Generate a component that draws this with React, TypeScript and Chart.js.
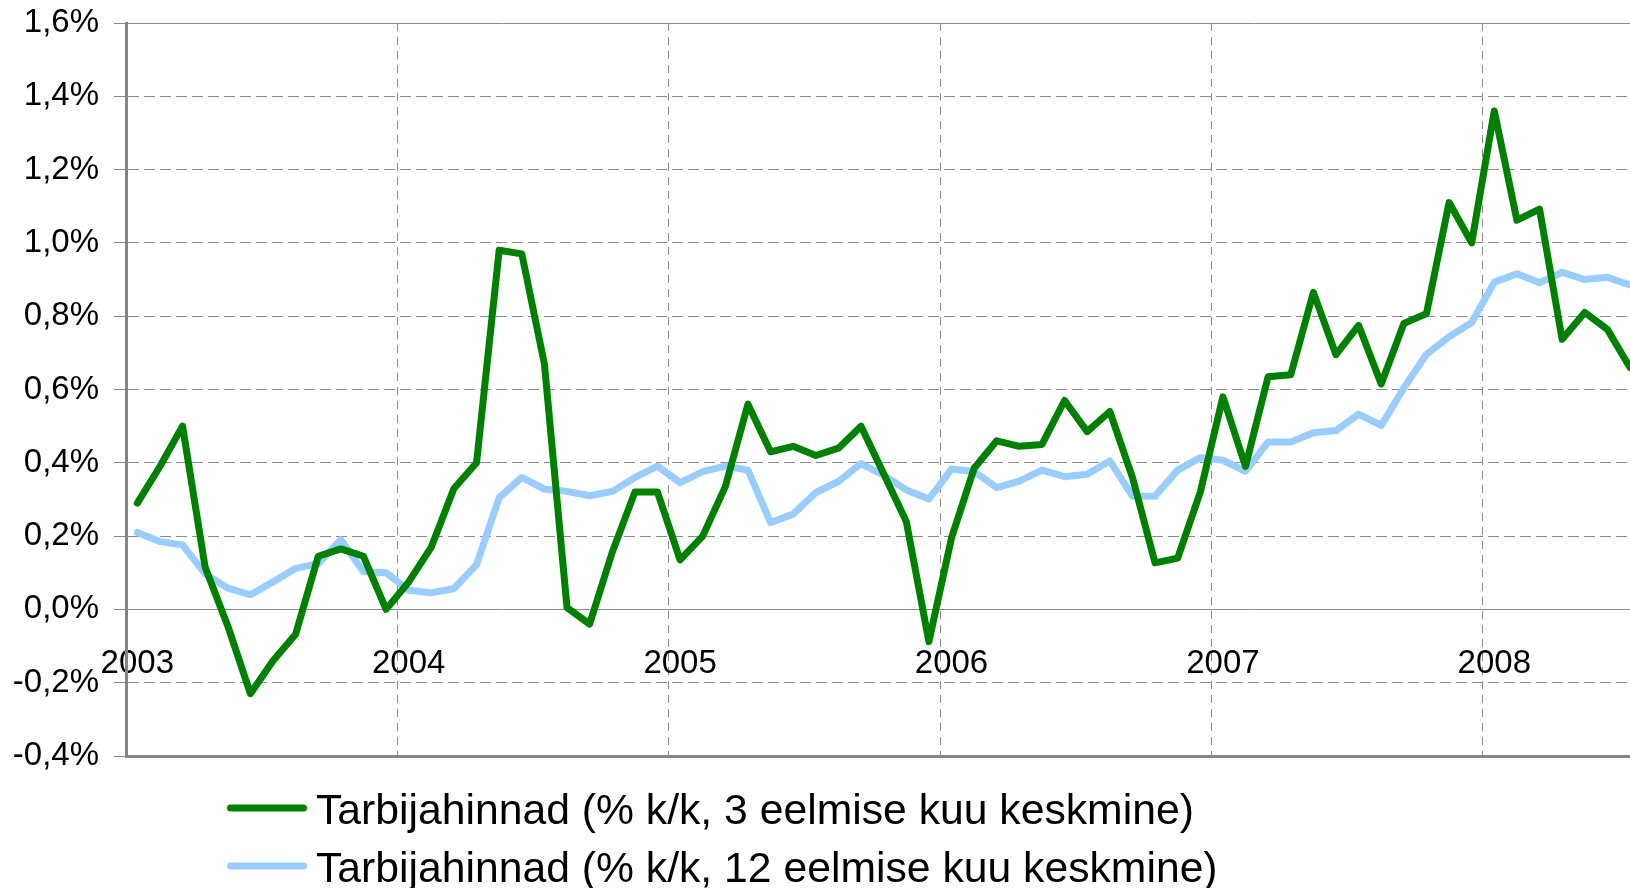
import React, { useEffect, useRef } from 'react';
import { Chart, registerables } from 'chart.js';

Chart.register(...registerables);

// ---- data ----
const years = ['2003', '2004', '2005', '2006', '2007', '2008'];

// Tarbijahinnad (% k/k, 3 eelmise kuu keskmine) — monthly, Jan 2003 .. Jul 2008
const cpi3m = [
  0.29, 0.39, 0.50, 0.115, -0.045, -0.23, -0.14, -0.068, 0.145, 0.165, 0.145, 0.0,
  0.075, 0.17, 0.33, 0.40, 0.98, 0.97, 0.67, 0.005, -0.04, 0.156, 0.32, 0.32,
  0.135, 0.20, 0.335, 0.56, 0.43, 0.445, 0.42, 0.44, 0.50, 0.37, 0.24, -0.088,
  0.195, 0.385, 0.46, 0.445, 0.45, 0.57, 0.485, 0.54, 0.36, 0.127, 0.14, 0.32,
  0.58, 0.39, 0.635, 0.64, 0.865, 0.695, 0.775, 0.615, 0.78, 0.807, 1.11, 1.00,
  1.36, 1.062, 1.092, 0.737, 0.81, 0.764, 0.66,
];

// Tarbijahinnad (% k/k, 12 eelmise kuu keskmine)
const cpi12m = [
  0.21, 0.185, 0.176, 0.097, 0.058, 0.04, 0.075, 0.112, 0.125, 0.19, 0.103, 0.10,
  0.052, 0.045, 0.057, 0.122, 0.305, 0.36, 0.328, 0.322, 0.31, 0.322, 0.36, 0.391,
  0.346, 0.376, 0.391, 0.38, 0.237, 0.26, 0.319, 0.349, 0.398, 0.366, 0.326, 0.301,
  0.383, 0.376, 0.332, 0.35, 0.38, 0.362, 0.369, 0.405, 0.309, 0.309, 0.38, 0.414,
  0.407, 0.377, 0.457, 0.457, 0.482, 0.488, 0.533, 0.502, 0.604, 0.696, 0.744, 0.783,
  0.893, 0.916, 0.891, 0.92, 0.9, 0.906, 0.885,
];

const seriesLabels = [
  'Tarbijahinnad (% k/k, 3 eelmise kuu keskmine)',
  'Tarbijahinnad (% k/k, 12 eelmise kuu keskmine)',
];

const yMin = -0.4;
const yMax = 1.6;
const yStep = 0.2;

// ---- styling ----
const FONT = '"Liberation Sans", Arial, sans-serif';
const GREEN = '#008000';
const BLUE = '#99CCFF';
const GRID = '#8a8a8a';
const AXIS = '#868686';

const yearTickIdx = years.map((_, i) => i * 12);
const yearGridIdx = years.slice(1).map((_, i) => (i + 1) * 12 - 0.5);

const legendPlugin = {
  id: 'customLegend',
  afterDraw(chart: any) {
    const ctx = chart.ctx;
    ctx.save();
    chart.data.datasets.forEach((ds: any, i: number) => {
      const y = 808 + i * 58;
      ctx.strokeStyle = ds.borderColor;
      ctx.lineWidth = 7;
      ctx.lineCap = 'round';
      ctx.beginPath();
      ctx.moveTo(230.5, y);
      ctx.lineTo(303.5, y);
      ctx.stroke();
      ctx.fillStyle = '#000';
      ctx.font = `42.7px ${FONT}`;
      ctx.textAlign = 'left';
      ctx.textBaseline = 'alphabetic';
      ctx.fillText(ds.label, 316, y + 15.5);
    });
    ctx.restore();
  },
};

export default function App() {
  const ref = useRef<HTMLCanvasElement>(null);

  useEffect(() => {
    const last = cpi3m.length - 1;
    const chart = new Chart(ref.current as HTMLCanvasElement, {
      type: 'line',
      data: {
        datasets: [
          {
            label: seriesLabels[0],
            data: cpi3m.map((v, i) => ({ x: i, y: v })),
            borderColor: GREEN,
            backgroundColor: GREEN,
            borderWidth: 7,
            pointRadius: 0,
            tension: 0,
            borderJoinStyle: 'round',
            borderCapStyle: 'round',
            xAxisID: 'x',
            yAxisID: 'y',
          },
          {
            label: seriesLabels[1],
            data: cpi12m.map((v, i) => ({ x: i, y: v })),
            borderColor: BLUE,
            backgroundColor: BLUE,
            borderWidth: 7,
            pointRadius: 0,
            tension: 0,
            borderJoinStyle: 'round',
            borderCapStyle: 'round',
            xAxisID: 'x',
            yAxisID: 'y',
          },
        ],
      },
      options: {
        responsive: false,
        animation: false,
        devicePixelRatio: 1,
        layout: { padding: { top: 23, left: 0, right: 0, bottom: 0 } },
        plugins: {
          legend: { display: false },
          tooltip: { enabled: false },
        },
        scales: {
          x: {
            type: 'linear',
            position: 'bottom',
            min: -0.5,
            max: last,
            afterBuildTicks: (s: any) => {
              s.ticks = yearGridIdx.map((v) => ({ value: v }));
            },
            ticks: { display: false },
            grid: { color: GRID, lineWidth: 1, drawTicks: false },
            border: { display: true, color: AXIS, width: 3, dash: [8, 6] },
            afterFit: (s: any) => {
              s.height = 132;
              s.paddingLeft = 0;
              s.paddingRight = 0;
            },
          },
          xl: {
            type: 'linear',
            position: { y: 0 },
            min: -0.5,
            max: last,
            afterBuildTicks: (s: any) => {
              s.ticks = yearTickIdx.map((v) => ({ value: v }));
            },
            ticks: {
              autoSkip: false,
              maxRotation: 0,
              padding: 35,
              color: '#000',
              font: { family: FONT, size: 33 },
              callback: (v: any) => {
                const k = yearTickIdx.indexOf(Number(v));
                return k >= 0 ? years[k] : '';
              },
            },
            grid: { display: false, drawTicks: false },
            border: { display: false },
            afterFit: (s: any) => {
              s.paddingLeft = 0;
              s.paddingRight = 0;
            },
          },
          y: {
            type: 'linear',
            min: yMin,
            max: yMax,
            ticks: {
              stepSize: yStep,
              padding: 15,
              color: '#000',
              font: { family: FONT, size: 33 },
              callback: (v: any) => Number(v).toFixed(1).replace('.', ',') + '%',
            },
            grid: { color: GRID, lineWidth: 1, tickLength: 12, tickColor: AXIS, tickWidth: 1 },
            border: {
              display: true,
              color: AXIS,
              width: 3,
              dash: (ctx: any) => {
                const v = ctx.tick ? ctx.tick.value : null;
                if (v === null) return [];
                if (Math.abs(v) < 1e-6 || v > yMax - 1e-6 || v < yMin + 1e-6) return [];
                return [11, 5];
              },
            },
            afterFit: (s: any) => {
              s.width = 126;
              s.paddingTop = 0;
              s.paddingBottom = 0;
            },
          },
        },
      },
      plugins: [legendPlugin],
    } as any);
    return () => chart.destroy();
  }, []);

  return (
    <div style={{ position: 'fixed', left: 0, top: 0, width: 1630, height: 888, background: '#fff' }}>
      <canvas ref={ref} width={1630} height={888} style={{ width: 1630, height: 888, display: 'block' }} />
    </div>
  );
}
